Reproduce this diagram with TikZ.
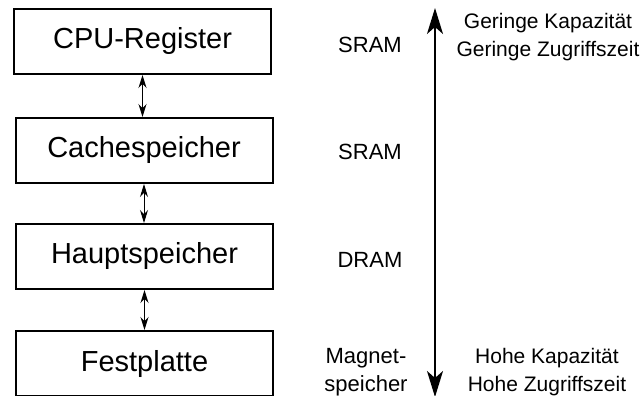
\documentclass[tikz,border=0pt]{standalone}
\usepackage{fontspec}
\setmainfont{Liberation Sans}
\usetikzlibrary{arrows.meta}
\tikzset{
  memboxstyle/.style={draw, line width=2pt, minimum width=257pt, minimum height=65pt, inner sep=0pt, font=\fontsize{29}{34}\selectfont},
  techlabel/.style={font=\fontsize{22}{28}\selectfont, align=center, inner sep=0pt},
  proplabel/.style={font=\fontsize{21}{28}\selectfont, align=center, inner sep=0pt},
  smallarrow/.style={line width=1pt, {Stealth[length=13pt,width=8pt]}-{Stealth[length=13pt,width=8pt]}},
  bigarrow/.style={line width=1.8pt, {Stealth[length=26pt,width=16pt,inset=7pt]}-{Stealth[length=26pt,width=16pt,inset=7pt]}}
}
\begin{document}
\begin{tikzpicture}[x=1pt,y=-1pt]
\useasboundingbox (0,0) rectangle (643,396);
\node[memboxstyle] (b1) at (142.5,41.5) {CPU-Register};
\node[memboxstyle] (b2) at (144,150.5) {Cachespeicher};
\node[memboxstyle] (b3) at (144.5,256.5) {Hauptspeicher};
\node[memboxstyle] (b4) at (144.5,363.5) {Festplatte};
\draw[smallarrow] (b1.south) -- (b1.south |- b2.north);
\draw[smallarrow] (b2.south) -- (b2.south |- b3.north);
\draw[smallarrow] (b3.south) -- (b3.south |- b4.north);
\node[techlabel] (t1) at (370,45) {SRAM};
\node[techlabel] (t2) at (370,152) {SRAM};
\node[techlabel] (t3) at (370,260) {DRAM};
\node[techlabel] (t4) at (366,372) {Magnet-\\speicher};
\coordinate (top) at (435,8);
\coordinate (bot) at (435,397);
\draw[bigarrow] (bot) -- (top);
\node[proplabel] (p1) at (548,37) {Geringe Kapazität\\Geringe Zugriffszeit};
\node[proplabel] (p2) at (547,372) {Hohe Kapazität\\Hohe Zugriffszeit};
\end{tikzpicture}
\end{document}
